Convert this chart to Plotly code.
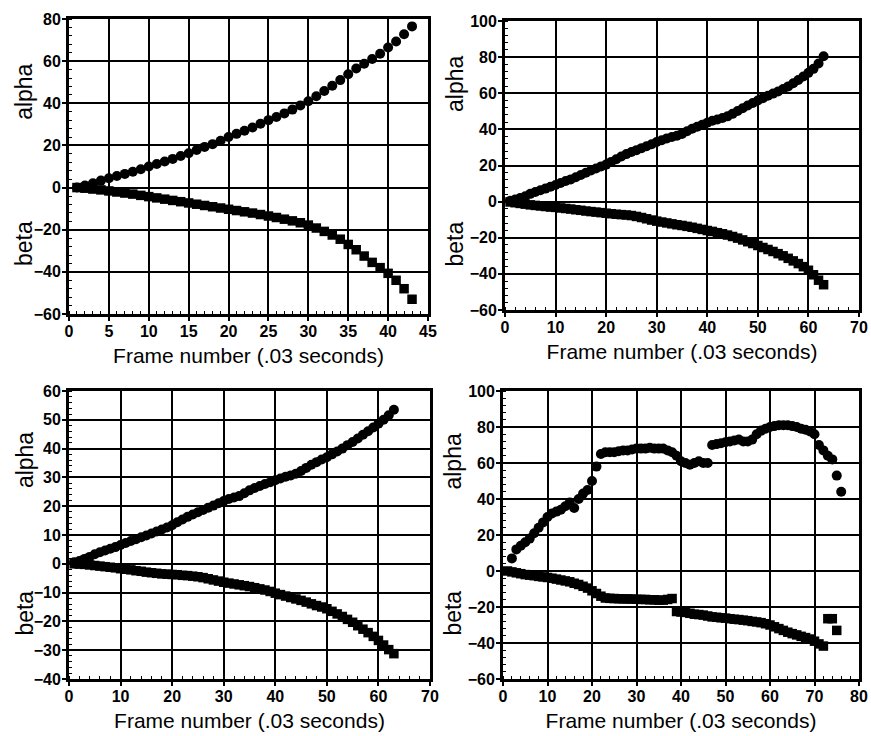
import plotly.graph_objects as go

# ---------------- data ----------------
p1_frames = list(range(1, 44))
p1_alpha = [0, 1, 2, 3.3, 4.4, 5.5, 6.5, 7.5, 8.7, 10, 11.2, 12.4, 13.6, 15, 16.3, 17.8, 19.3, 20.6,
            22.2, 24, 25.5, 27, 28.5, 30.3, 32, 33.5, 35.2, 37, 39, 41, 43.3, 45.8, 48.3, 51, 53.8,
            56.5, 58.8, 61, 63.5, 66.5, 69.3, 72.8, 76.5]
p1_beta = [0, -0.3, -0.7, -1.1, -1.6, -2.1, -2.6, -3.1, -3.7, -4.3, -4.9, -5.5, -6.1, -6.7, -7.3,
           -7.9, -8.5, -9.1, -9.7, -10.3, -10.9, -11.5, -12.1, -12.8, -13.5, -14.2, -15, -15.8,
           -16.7, -17.8, -19.2, -20.8, -22.5, -24.5, -27, -29.5, -32.5, -35.5, -38, -40.7, -44,
           -48, -53]

p2_frames = list(range(1, 64))
p2_alpha = [0.5, 1.2, 2, 3, 4.3, 5.3, 6.3, 7.2, 8.2, 9.2, 10.3, 11.4, 12.3, 13.5, 14.7, 16, 17.2,
            18.3, 19.5, 20.5, 22, 23.5, 25, 26.3, 27.5, 28.5, 29.6, 30.7, 31.8, 33, 34, 35, 35.8,
            36.5, 37.5, 39, 40.3, 41.5, 42.5, 43.7, 44.8, 45.5, 46.3, 47.2, 48.6, 50.2, 51.7, 53.2,
            54.6, 56, 57.3, 58.6, 59.8, 61, 62.3, 63.8, 65.5, 67.3, 69.3, 71.3, 73.5, 76.5, 80.5]
p2_beta = [-0.2, -0.6, -1, -1.4, -1.8, -2.1, -2.4, -2.7, -3, -3.2, -3.5, -3.8, -4.1, -4.5, -4.8,
           -5.2, -5.5, -5.8, -6.1, -6.4, -6.7, -7, -7.2, -7.4, -7.7, -8.2, -8.8, -9.5, -10.2,
           -10.8, -11.3, -11.8, -12.3, -12.8, -13.2, -13.7, -14.2, -14.8, -15.4, -16, -16.5,
           -17.2, -17.8, -18.5, -19.3, -20.2, -21.2, -22.2, -23.2, -24.3, -25.4, -26.5, -27.6,
           -28.8, -30, -31.4, -32.8, -34.3, -36, -38, -40.5, -43.5, -46]

p3_frames = list(range(1, 64))
p3_alpha = [0.5, 1, 1.7, 2.4, 3.3, 4, 4.6, 5.2, 5.8, 6.5, 7.2, 7.9, 8.5, 9.2, 9.8, 10.5, 11.2, 11.9,
            12.6, 13.4, 14.4, 15.4, 16.3, 17.1, 17.9, 18.7, 19.5, 20.2, 21, 21.8, 22.5, 23, 23.5,
            24.5, 25.5, 26.3, 27, 27.7, 28.3, 29, 29.6, 30.2, 30.7, 31.3, 32.2, 33.3, 34.4, 35.3,
            36.2, 37, 38, 39, 40, 41.2, 42.3, 43.5, 44.8, 46, 47.3, 48.6, 50, 51.6, 53.5]
p3_beta = [0, -0.1, -0.2, -0.4, -0.6, -0.8, -1, -1.2, -1.4, -1.7, -1.9, -2.1, -2.4, -2.6, -2.9,
           -3.1, -3.3, -3.5, -3.6, -3.7, -3.8, -4, -4.1, -4.3, -4.5, -4.8, -5.2, -5.6, -6, -6.4,
           -6.7, -7, -7.3, -7.6, -7.9, -8.3, -8.7, -9.1, -9.6, -10.2, -10.7, -11.2, -11.7, -12.2,
           -12.7, -13.3, -13.9, -14.5, -15, -15.6, -16.5, -17.4, -18.3, -19.3, -20.3, -21.5,
           -22.7, -23.9, -25.2, -26.6, -28.2, -29.8, -31.2]

p4_alpha_frames = list(range(2, 77))
p4_alpha = [7, 12, 14, 16, 18, 21, 24, 27, 30, 32, 33, 34, 36, 38, 35, 40, 43, 45, 50, 58, 65, 66,
            66, 66, 66.5, 67, 67, 67.5, 68, 68, 68, 68.5, 68, 68, 68, 67, 66, 64, 61, 60, 59, 60,
            61, 60, 60, 70, 70.5, 71, 71.5, 72, 72.5, 73, 72, 72, 73, 76, 78, 79, 80, 80.5, 81, 81,
            81, 80.5, 80, 79, 78.5, 77.5, 76, 70, 67, 64, 62, 53, 44]
p4_beta_frames = list(range(1, 76))
p4_beta = [0, -0.5, -1, -1.5, -2, -2.3, -2.6, -3, -3.3, -3.6, -4, -4.5, -5, -5.5, -6, -6.8, -7.5,
           -8.5, -9.5, -11, -12.5, -14, -15, -15.2, -15.3, -15.4, -15.5, -15.5, -15.6, -15.7,
           -15.8, -15.8, -16, -16, -16.2, -16.2, -15.8, -15.3, -22.5, -22.8, -23, -23.5, -24,
           -24.2, -24.5, -25, -25.5, -25.7, -26, -26.2, -26.5, -26.8, -27, -27.3, -27.6, -28,
           -28.3, -28.7, -29.3, -30, -31, -32, -33, -34, -34.8, -35.5, -36.3, -37, -37.8, -39,
           -40.5, -41.7, -26.5, -26.5, -33]

x_ranges = [[0, 45], [0, 70], [0, 70], [0, 80]]
x_dticks = [5, 10, 10, 10]
y_ranges = [[-60, 80], [-60, 100], [-40, 60], [-60, 100]]
y_dticks = [20, 20, 10, 20]
x_title = "Frame number (.03 seconds)"

# ---------------- figure ----------------
W, H = 871, 736
# plot-area pixel boxes: left, right, top, bottom
boxes = [(69, 428, 19, 314), (505, 859, 21, 310), (69, 430, 391, 679), (503, 859, 391, 679)]
label_dx = [45, 50, 44, 50]
alpha_fy = [0.247, 0.218, 0.24, 0.245]
beta_fy = [0.763, 0.77, 0.773, 0.773]

fig = go.Figure()
series = [(p1_frames, p1_alpha, p1_frames, p1_beta),
          (p2_frames, p2_alpha, p2_frames, p2_beta),
          (p3_frames, p3_alpha, p3_frames, p3_beta),
          (p4_alpha_frames, p4_alpha, p4_beta_frames, p4_beta)]

FONT = "Liberation Sans, Arial, sans-serif"
layout = dict(width=W, height=H, margin=dict(l=0, r=0, t=0, b=0, autoexpand=False),
              paper_bgcolor="white", plot_bgcolor="white", showlegend=False,
              font=dict(family=FONT, color="black"))
annotations = []
for i, (ax_, aa, bx, bb) in enumerate(series):
    n = "" if i == 0 else str(i + 1)
    xa, ya = "x" + n, "y" + n
    fig.add_trace(go.Scatter(x=bx, y=bb, mode="markers", xaxis=xa, yaxis=ya,
                             marker=dict(symbol="square", size=9.5, color="black")))
    fig.add_trace(go.Scatter(x=ax_, y=aa, mode="markers", xaxis=xa, yaxis=ya,
                             marker=dict(symbol="circle", size=10, color="black")))
    l, r, t, b = boxes[i]
    common = dict(showgrid=True, gridcolor="black", gridwidth=1.8, zeroline=False,
                  showline=True, linecolor="black", linewidth=2.8, mirror=True,
                  ticks="outside", ticklen=4, tickwidth=1.5, tickcolor="black",
                  automargin=False, ticklabeloverflow="allow",
                  tickfont=dict(family=FONT, size=16, color="black", weight="bold"))
    layout["xaxis" + n] = dict(common, domain=[l / W, r / W], range=x_ranges[i],
                               dtick=x_dticks[i], tick0=0, anchor=ya, ticklabelstandoff=-3,
                               minor=dict(ticks="inside", ticklen=3, tickwidth=1.2,
                                          tickcolor="black", dtick=x_dticks[i] / 5,
                                          showgrid=False),
                               title=dict(text=x_title, standoff=10,
                                          font=dict(family=FONT, size=21, color="black")))
    layout["yaxis" + n] = dict(common, domain=[1 - b / H, 1 - t / H], range=y_ranges[i],
                               dtick=y_dticks[i], tick0=0, anchor=xa, ticklabelstandoff=-2,
                               minor=dict(ticks="inside", ticklen=3, tickwidth=1.2,
                                          tickcolor="black", dtick=y_dticks[i] / 5,
                                          showgrid=False))
    # rotated labels alpha / beta
    lx = (l - label_dx[i]) / W
    annotations.append(dict(text="alpha", x=lx, y=1 - (t + alpha_fy[i] * (b - t)) / H,
                            xref="paper", yref="paper", textangle=-90, showarrow=False,
                            font=dict(family=FONT, size=23, color="black"),
                            xanchor="center", yanchor="middle"))
    annotations.append(dict(text="beta", x=lx, y=1 - (t + beta_fy[i] * (b - t)) / H,
                            xref="paper", yref="paper", textangle=-90, showarrow=False,
                            font=dict(family=FONT, size=23, color="black"),
                            xanchor="center", yanchor="middle"))

layout["annotations"] = annotations
fig.update_layout(**layout)
fig.write_html("out.html", config={"displayModeBar": False},
               post_script="document.body.style.margin='0';document.body.style.overflow='hidden';")
